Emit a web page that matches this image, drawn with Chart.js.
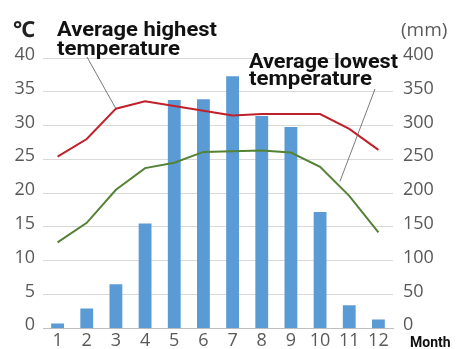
<!DOCTYPE html>
<html>
  <head>
    <title>Temperature and rainfall</title>
    <script src="https://cdn.jsdelivr.net/npm/chart.js"></script>
    <style>
      body { margin: 0; background: #ffffff; }
      #wrap { width: 459px; height: 349px; }
    </style>
  </head>
  <body>
    <div id="wrap"><canvas id="myChart" width="459" height="349"></canvas></div>
    <script>
      // data
      var months = ["1", "2", "3", "4", "5", "6", "7", "8", "9", "10", "11", "12"];
      var rainfall = [7, 29, 65, 155, 338, 339, 373, 314, 298, 172, 34, 13];          // mm, right axis
      var highTemp = [25.4, 28.0, 32.5, 33.6, 32.9, 32.2, 31.5, 31.7, 31.7, 31.7, 29.5, 26.4]; // ℃
      var lowTemp = [12.7, 15.6, 20.5, 23.7, 24.5, 26.1, 26.2, 26.3, 26.0, 23.9, 19.6, 14.2];  // ℃
      var tempTicks = [0, 40, 5];   // min, max, step
      var rainTicks = [0, 400, 50];

      var tickFont = { family: "'Open Sans', sans-serif", size: 18 };
      var tickColor = "#595959";

      function boldText(ctx, text, x, baseline, size, targetWidth) {
        ctx.save();
        ctx.font = "bold " + size + "px Roboto, sans-serif";
        var w = ctx.measureText(text).width;
        ctx.translate(x, baseline);
        ctx.scale(targetWidth / w, 1);
        ctx.fillStyle = "#111111";
        ctx.textAlign = "left";
        ctx.textBaseline = "alphabetic";
        ctx.fillText(text, 0, 0);
        ctx.restore();
      }

      var extras = {
        id: "extras",
        afterDraw: function (chart) {
          var ctx = chart.ctx;
          var xs = chart.scales.x, ys = chart.scales.y;

          // unit labels
          ctx.save();
          ctx.fillStyle = "#222222";
          ctx.font = "bold 22px 'Noto Sans', sans-serif";
          ctx.textBaseline = "alphabetic";
          ctx.fillText("℃", 13, 37);
          ctx.fillStyle = tickColor;
          ctx.font = "19px 'Open Sans', sans-serif";
          ctx.fillText("(mm)", 401, 36);
          ctx.fillStyle = "#111111";
          ctx.font = "bold 14px Roboto, sans-serif";
          ctx.fillText("Month", 410, 347);
          ctx.restore();

          // annotations
          boldText(ctx, "Average highest", 57, 36, 20, 160);
          boldText(ctx, "temperature", 57, 55, 20, 123);
          boldText(ctx, "Average lowest", 249, 68, 20, 149);
          boldText(ctx, "temperature", 249, 85, 20, 123);

          // leader lines
          ctx.save();
          ctx.strokeStyle = "#595959";
          ctx.lineWidth = 0.8;
          ctx.beginPath();
          ctx.moveTo(87, 57);
          ctx.lineTo(xs.getPixelForValue(2), ys.getPixelForValue(highTemp[2]));
          var f = 0.68;
          var lx = xs.getPixelForValue(9) + f * (xs.getPixelForValue(10) - xs.getPixelForValue(9));
          var ly = ys.getPixelForValue(lowTemp[9] + f * (lowTemp[10] - lowTemp[9]));
          ctx.moveTo(375, 89);
          ctx.lineTo(lx, ly - 5);
          ctx.stroke();
          ctx.restore();
        }
      };

      var ctx = document.getElementById("myChart").getContext("2d");
      new Chart(ctx, {
        type: "bar",
        data: {
          labels: months,
          datasets: [
            {
              type: "line",
              label: "Average highest temperature",
              data: highTemp,
              yAxisID: "y",
              borderColor: "#c0202a",
              borderWidth: 2,
              pointRadius: 0,
              tension: 0,
              order: 0
            },
            {
              type: "line",
              label: "Average lowest temperature",
              data: lowTemp,
              yAxisID: "y",
              borderColor: "#548235",
              borderWidth: 2,
              pointRadius: 0,
              tension: 0,
              order: 0
            },
            {
              label: "Rainfall",
              data: rainfall,
              yAxisID: "y1",
              backgroundColor: "#5b9bd5",
              categoryPercentage: 1,
              barPercentage: 0.44,
              order: 1
            }
          ]
        },
        plugins: [extras],
        options: {
          responsive: false,
          animation: false,
          layout: { padding: { top: 58, left: 0, right: 0, bottom: 0 } },
          plugins: { legend: { display: false }, tooltip: { enabled: false } },
          scales: {
            x: {
              grid: { display: false },
              border: { display: true, color: "#bfbfbf", width: 1 },
              ticks: { font: tickFont, color: tickColor, padding: -6, maxRotation: 0 },
              afterFit: function (s) { s.height = 20; }
            },
            y: {
              position: "left",
              min: tempTicks[0],
              max: tempTicks[1],
              ticks: { stepSize: tempTicks[2], font: tickFont, color: tickColor, padding: 8, labelOffset: -3 },
              grid: { color: "#d9d9d9", lineWidth: 1, drawTicks: false },
              border: { display: false },
              afterFit: function (s) { s.width = 43; }
            },
            y1: {
              position: "right",
              min: rainTicks[0],
              max: rainTicks[1],
              ticks: { stepSize: rainTicks[2], font: tickFont, color: tickColor, padding: 10, labelOffset: -3 },
              grid: { display: false, drawTicks: false },
              border: { display: false },
              afterFit: function (s) { s.width = 66; }
            }
          }
        }
      });
    </script>
  </body>
</html>
